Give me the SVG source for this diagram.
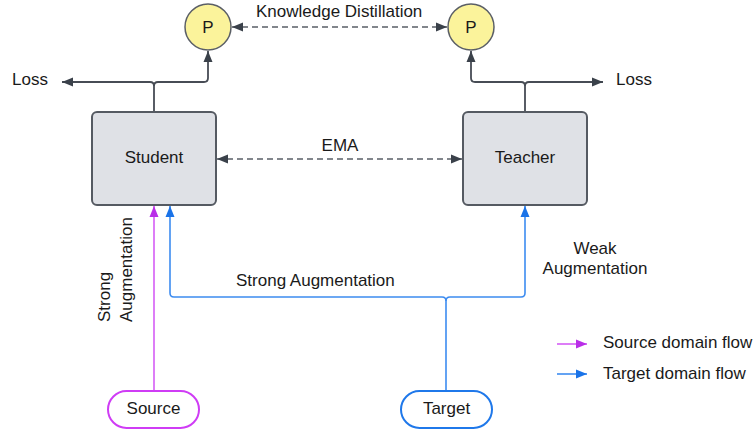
<svg xmlns="http://www.w3.org/2000/svg" width="756" height="432" viewBox="0 0 756 432">
<defs>
<style>
text{font-family:"Liberation Sans",Arial,sans-serif;font-size:17px;fill:#1a1a1a}
.box{fill:#dfe1e6;stroke:#555a62;stroke-width:2}
.circ{fill:#fbf39b;stroke:#5b5f66;stroke-width:1.5}
.dk{fill:none;stroke:#474c55;stroke-width:1.8}
.dash{fill:none;stroke:#5a5f67;stroke-width:1.5;stroke-dasharray:6 4}
.pu{fill:none;stroke:#d55ef5;stroke-width:1.6}
.bl{fill:none;stroke:#3d8cf0;stroke-width:1.6}
</style>
<marker id="ad" markerUnits="userSpaceOnUse" markerWidth="12" markerHeight="10" refX="11" refY="4.5" orient="auto-start-reverse" viewBox="0 0 12 9"><path d="M0,0 L11,4.5 L0,9 z" fill="#3a414a"/></marker>
<marker id="ap" markerUnits="userSpaceOnUse" markerWidth="12" markerHeight="10" refX="11" refY="4.5" orient="auto" viewBox="0 0 12 9"><path d="M0,0 L11,4.5 L0,9 z" fill="#b92ee8"/></marker>
<marker id="ab" markerUnits="userSpaceOnUse" markerWidth="12" markerHeight="10" refX="11" refY="4.5" orient="auto" viewBox="0 0 12 9"><path d="M0,0 L11,4.5 L0,9 z" fill="#1a73e8"/></marker>
</defs>
<g id="connectors">
<path class="dk" d="M154,112 V86 Q154,82 150,82 H62" marker-end="url(#ad)"/>
<path class="dk" d="M154,86 Q154,82 158,82 H204 Q208,82 208,78 V51" marker-end="url(#ad)"/>
<path class="dk" d="M525,112 V86 Q525,82 529,82 H603" marker-end="url(#ad)"/>
<path class="dk" d="M525,86 Q525,82 521,82 H475 Q471,82 471,78 V51" marker-end="url(#ad)"/>
<path class="dash" d="M232,27 H447" marker-start="url(#ad)" marker-end="url(#ad)"/>
<path class="dash" d="M217,159 H462" marker-start="url(#ad)" marker-end="url(#ad)"/>
<path class="pu" d="M154,391 V206" marker-end="url(#ap)"/>
<path class="bl" d="M446,391 V301 Q446,297 442,297 H174 Q170,297 170,293 V206" marker-end="url(#ab)"/>
<path class="bl" d="M446,301 Q446,297 450,297 H521 Q525,297 525,293 V206" marker-end="url(#ab)"/>
<text x="256" y="16.5">Knowledge Distillation</text>
<text x="340" y="151" text-anchor="middle">EMA</text>
<text x="236" y="286">Strong Augmentation</text>
<text transform="translate(110,322) rotate(-90)">Strong</text>
<text transform="translate(132,322) rotate(-90)">Augmentation</text>
<text x="595" y="254" text-anchor="middle">Weak</text>
<text x="595" y="274" text-anchor="middle">Augmentation</text>
<text x="12" y="85">Loss</text>
<text x="616" y="85">Loss</text>
</g>
<g id="student"><rect class="box" x="92" y="112" width="124" height="93" rx="5"/><text x="154" y="163" text-anchor="middle">Student</text></g>
<g id="teacher"><rect class="box" x="463" y="112" width="124" height="93" rx="5"/><text x="525" y="163" text-anchor="middle">Teacher</text></g>
<g id="p-student"><circle class="circ" cx="208" cy="27" r="23"/><text x="208" y="33" text-anchor="middle">P</text></g>
<g id="p-teacher"><circle class="circ" cx="471" cy="27" r="23"/><text x="471" y="33" text-anchor="middle">P</text></g>
<g id="source"><rect x="108" y="391" width="91" height="37" rx="18.5" fill="#fff" stroke="#cf3cf5" stroke-width="2"/><text x="153.5" y="414" text-anchor="middle">Source</text></g>
<g id="target"><rect x="401" y="391" width="91" height="37" rx="18.5" fill="#fff" stroke="#1f78ea" stroke-width="2"/><text x="446.5" y="414" text-anchor="middle">Target</text></g>
<g id="legend">
<path class="pu" d="M557,344 H587" marker-end="url(#ap)"/>
<text x="603" y="348">Source domain flow</text>
<path class="bl" d="M557,374 H587" marker-end="url(#ab)"/>
<text x="603" y="379">Target domain flow</text>
</g>
</svg>
